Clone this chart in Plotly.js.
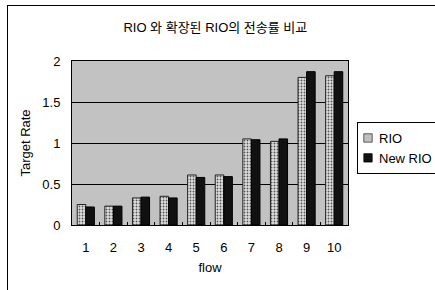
<!DOCTYPE html>
<html>
<head>
<meta charset="utf-8">
<script src="https://cdn.plot.ly/plotly-3.0.1.min.js"></script>
<style>
html,body{margin:0;padding:0;background:#fff;}
#wrap{position:relative;width:435px;height:290px;overflow:hidden;}
#chart{width:435px;height:290px;}
#frame{position:absolute;left:7px;top:5px;width:440px;height:300px;border-left:1.5px solid #000;border-top:1.5px solid #000;pointer-events:none;}
</style>
</head>
<body>
<div id="wrap"><div id="chart"></div><div id="frame"></div></div>
<script>
const flows = ['1','2','3','4','5','6','7','8','9','10'];
const rio = [0.25,0.23,0.33,0.35,0.61,0.61,1.05,1.02,1.80,1.82];
const newRio = [0.22,0.23,0.34,0.33,0.58,0.59,1.04,1.05,1.87,1.87];
const seriesNames = ['RIO','New RIO'];
const titleText = 'RIO 와 확장된 RIO의 전송률 비교';
const xTitle = 'flow';
const yTitle = 'Target Rate';

const font = '"Liberation Sans", Arial, "Noto Sans CJK KR", sans-serif';

const traces = [
  {type:'bar', name:seriesNames[0], x:flows, y:rio,
   marker:{color:'#d4d4d4', line:{color:'#222', width:1},
           pattern:{shape:'.', fgcolor:'#555', bgcolor:'#e0e0e0', size:3, solidity:0.3}}},
  {type:'bar', name:seriesNames[1], x:flows, y:newRio,
   marker:{color:'#111', line:{color:'#000', width:1}}}
];

const layout = {
  width:435, height:290,
  margin:{l:72, r:87, t:61, b:65},
  paper_bgcolor:'#fff',
  plot_bgcolor:'#c2c2c2',
  font:{family:font, size:13, color:'#000'},
  title:{text:titleText, x:0.495, xanchor:'center', y:0.905, yanchor:'middle',
         font:{family:'"Liberation Sans", "Noto Sans CJK KR", sans-serif', size:13, color:'#000'}},
  bargap:0.38, bargroupgap:0,
  barmode:'group',
  xaxis:{type:'category', showline:true, linecolor:'#000', linewidth:1, mirror:true,
         ticks:'inside', tickson:'boundaries', ticklen:3, tickcolor:'#000',
         ticklabelstandoff:10, showgrid:false,
         title:{text:xTitle, font:{size:13}, standoff:9}},
  yaxis:{range:[0,2], dtick:0.5, showline:true, linecolor:'#000', linewidth:1, mirror:true,
         showgrid:true, gridcolor:'#000', gridwidth:1, zeroline:false,
         ticks:'', ticklabelstandoff:8,
         title:{text:yTitle, font:{size:13}, standoff:8}},
  showlegend:true,
  legend:{xref:'container', yref:'container', x:357/435, y:1-122/290, xanchor:'left', yanchor:'top',
          bgcolor:'#fff', bordercolor:'#000', borderwidth:1, font:{size:13}, tracegroupgap:0,
          itemwidth:30}
};

Plotly.newPlot('chart', traces, layout, {displayModeBar:false, staticPlot:true}).then(function(gd){
  // tighten the legend: small symbols close to the text (Excel-like)
  const shift = 19;
  let maxRight = 0;
  gd.querySelectorAll('.legend .legendtext').forEach(function(t){
    const x = (parseFloat(t.getAttribute('x')) || 0) - shift;
    t.setAttribute('x', x);
    maxRight = Math.max(maxRight, x + t.getComputedTextLength());
  });
  gd.querySelectorAll('.legend .legendpoints').forEach(function(p){
    p.setAttribute('transform', 'translate(-4,0) scale(0.7)');
  });
  const bg = gd.querySelector('.legend rect.bg');
  if (bg && maxRight > 0) {
    bg.setAttribute('width', maxRight + 6);
  }
});
</script>
</body>
</html>
